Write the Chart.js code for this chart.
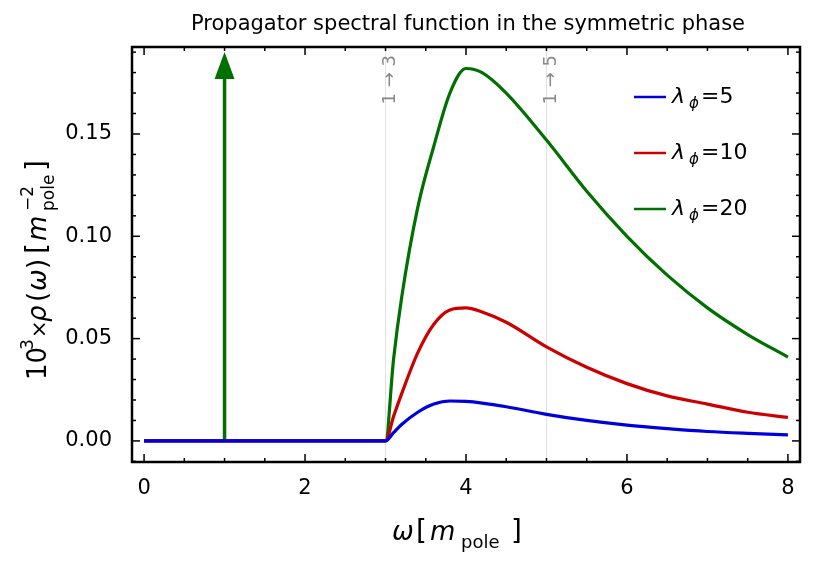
<!DOCTYPE html>
<html>
<head>
<meta charset="utf-8">
<script src="https://cdn.jsdelivr.net/npm/chart.js@4"></script>
<style>
  body { margin: 0; background: #fff; }
  #wrap { width: 830px; height: 561px; }
</style>
</head>
<body>
<div id="wrap"><canvas id="chart"></canvas></div>
<script>
// Data
const omega = [0, 1, 2, 3, 3.1, 3.2, 3.4, 3.6, 3.8, 4.0, 4.2, 4.5, 5, 5.5, 6, 6.5, 7, 7.5, 8];
const rho5  = [0, 0, 0, 0, 0.004, 0.008, 0.014, 0.018, 0.0195, 0.0193, 0.0185, 0.0167, 0.013, 0.010, 0.0077, 0.006, 0.0046, 0.0037, 0.003];
const rho10 = [0, 0, 0, 0, 0.012, 0.023, 0.043, 0.057, 0.064, 0.065, 0.063, 0.058, 0.046, 0.036, 0.028, 0.022, 0.018, 0.014, 0.0115];
const rho20 = [0, 0, 0, 0, 0.040, 0.070, 0.114, 0.144, 0.170, 0.182, 0.180, 0.170, 0.147, 0.122, 0.100, 0.081, 0.065, 0.052, 0.041];
const legendLabels = ["5", "10", "20"];
const colors = ["#0000dd", "#cc0000", "#007000"];
const poleX = 1, poleTop = 0.19;
const thresholds = [3, 5];
const thresholdLabels = ["1 \u2192 3", "1 \u2192 5"];

function pts(ys) { return omega.map((x, i) => ({ x: x, y: ys[i] })); }

const FONT = "'DejaVu Sans', sans-serif";
const F = 1.38; // font scale

function font(style, px) { return style + " " + Math.round(px * F) + "px " + FONT; }

const decorations = {
  id: "decorations",
  beforeDatasetsDraw(chart) {
    const { ctx, chartArea: a, scales: { x, y } } = chart;
    ctx.save();
    ctx.strokeStyle = "#e2e2e2";
    ctx.lineWidth = 1;
    thresholds.forEach((t, i) => {
      const px = x.getPixelForValue(t);
      ctx.beginPath(); ctx.moveTo(px, a.top); ctx.lineTo(px, a.bottom); ctx.stroke();
      ctx.save();
      ctx.translate(px + 14, a.top + 8);
      ctx.rotate(-Math.PI / 2);
      ctx.fillStyle = "#888";
      ctx.font = font("", 13);
      ctx.textAlign = "right";
      ctx.textBaseline = "bottom";
      ctx.fillText(thresholdLabels[i], 0, 0);
      ctx.restore();
    });
    ctx.restore();
  },
  afterDatasetsDraw(chart) {
    const { ctx, chartArea: a, scales: { x, y } } = chart;
    ctx.save();
    const ax = x.getPixelForValue(poleX), ay = y.getPixelForValue(poleTop);
    ctx.fillStyle = colors[2];
    ctx.beginPath();
    ctx.moveTo(ax, ay); ctx.lineTo(ax - 10, ay + 27); ctx.lineTo(ax + 10, ay + 27);
    ctx.closePath(); ctx.fill();

    ctx.strokeStyle = "#000";
    ctx.lineWidth = 2.5;
    ctx.strokeRect(a.left, a.top, a.right - a.left, a.bottom - a.top);

    ctx.lineWidth = 1.5;
    function tick(x0, y0, dx, dy) { ctx.beginPath(); ctx.moveTo(x0, y0); ctx.lineTo(x0 + dx, y0 + dy); ctx.stroke(); }
    for (let v = 0; v <= 8.001; v += 0.5) {
      const px = x.getPixelForValue(v);
      const len = Math.abs(v % 2) < 1e-6 ? 8 : 4;
      tick(px, a.bottom, 0, -len); tick(px, a.top, 0, len);
    }
    for (let k = -1; k <= 19; k++) {
      const v = k * 0.01;
      const py = y.getPixelForValue(v);
      if (py < a.top || py > a.bottom) continue;
      const len = k % 5 === 0 ? 8 : 4;
      tick(a.left, py, len, 0); tick(a.right, py, -len, 0);
    }

    ctx.fillStyle = "#000";
    ctx.font = font("", 15.5);
    ctx.textAlign = "center";
    ctx.textBaseline = "alphabetic";
    ctx.fillText("Propagator spectral function in the symmetric phase", 468, 30);

    legendLabels.forEach((lab, i) => {
      const ly = 97 + i * 56;
      ctx.strokeStyle = colors[i]; ctx.lineWidth = 2.5;
      ctx.beginPath(); ctx.moveTo(634, ly); ctx.lineTo(666, ly); ctx.stroke();
      ctx.fillStyle = "#000"; ctx.textAlign = "left"; ctx.textBaseline = "middle";
      ctx.font = font("italic", 16);
      ctx.fillText("\u03bb", 672, ly);
      ctx.font = font("italic", 11);
      ctx.fillText("\u03d5", 689, ly + 7);
      ctx.font = font("", 16);
      ctx.fillText("=" + lab, 701, ly);
    });

    ctx.textBaseline = "alphabetic";
    ctx.textAlign = "left";
    let cx = 392;
    ctx.font = font("italic", 19); ctx.fillText("\u03c9", cx, 540); cx += 24;
    ctx.font = font("", 20); ctx.fillText("[", cx, 540); cx += 14;
    ctx.font = font("italic", 19); ctx.fillText("m", cx, 540); cx += 31;
    ctx.font = font("", 13); ctx.fillText("pole", cx, 548); cx += 50;
    ctx.font = font("", 20); ctx.fillText("]", cx, 540);

    ctx.translate(46, 252);
    ctx.rotate(-Math.PI / 2);
    let t = -128;
    ctx.font = font("", 19); ctx.fillText("10", t, 0); t += 30;
    ctx.font = font("", 12); ctx.fillText("3", t, -13); t += 12;
    ctx.font = font("", 15); ctx.fillText("\u00d7", t, 0); t += 16;
    ctx.font = font("italic", 19); ctx.fillText("\u03c1", t, 0); t += 20;
    ctx.font = font("", 19); ctx.fillText("(", t, 0); t += 11;
    ctx.font = font("italic", 19); ctx.fillText("\u03c9", t, 0); t += 22;
    ctx.font = font("", 19); ctx.fillText(")", t, 0); t += 15;
    ctx.font = font("", 20); ctx.fillText("[", t, 0); t += 13;
    ctx.font = font("italic", 19); ctx.fillText("m", t, 0); t += 30;
    ctx.font = font("", 12); ctx.fillText("\u22122", t, -13); ctx.fillText("pole", t, 8); t += 40;
    ctx.font = font("", 20); ctx.fillText("]", t, 0);
    ctx.restore();
  }
};

const lineDs = (ys, c) => ({
  data: pts(ys), borderColor: c, borderWidth: 3.2, pointRadius: 0,
  cubicInterpolationMode: "monotone", fill: false
});

new Chart(document.getElementById("chart"), {
  type: "line",
  data: {
    datasets: [
      lineDs(rho5, colors[0]),
      lineDs(rho10, colors[1]),
      lineDs(rho20, colors[2]),
      { data: [{ x: poleX, y: 0 }, { x: poleX, y: poleTop - 0.011 }], borderColor: colors[2], borderWidth: 3.5, pointRadius: 0 }
    ]
  },
  options: {
    responsive: true,
    maintainAspectRatio: false,
    animation: false,
    layout: { padding: { left: 0, top: 47, right: 30, bottom: 0 } },
    plugins: { legend: { display: false }, tooltip: { enabled: false } },
    scales: {
      x: {
        type: "linear", min: -0.15, max: 8.15,
        afterFit(s) { s.height = 99; },
        afterBuildTicks(s) { s.ticks = [0, 2, 4, 6, 8].map(v => ({ value: v })); },
        grid: { display: false }, border: { display: false },
        ticks: { color: "#000", font: { size: Math.round(15 * F), family: FONT }, padding: 6, maxRotation: 0 }
      },
      y: {
        type: "linear", min: -0.0103, max: 0.1925,
        afterFit(s) { s.width = 132; },
        afterBuildTicks(s) { s.ticks = [0, 0.05, 0.1, 0.15].map(v => ({ value: v })); },
        grid: { display: false }, border: { display: false },
        ticks: { color: "#000", font: { size: Math.round(15 * F), family: FONT }, padding: 12, callback: v => v.toFixed(2) }
      }
    }
  },
  plugins: [decorations]
});
</script>
</body>
</html>
